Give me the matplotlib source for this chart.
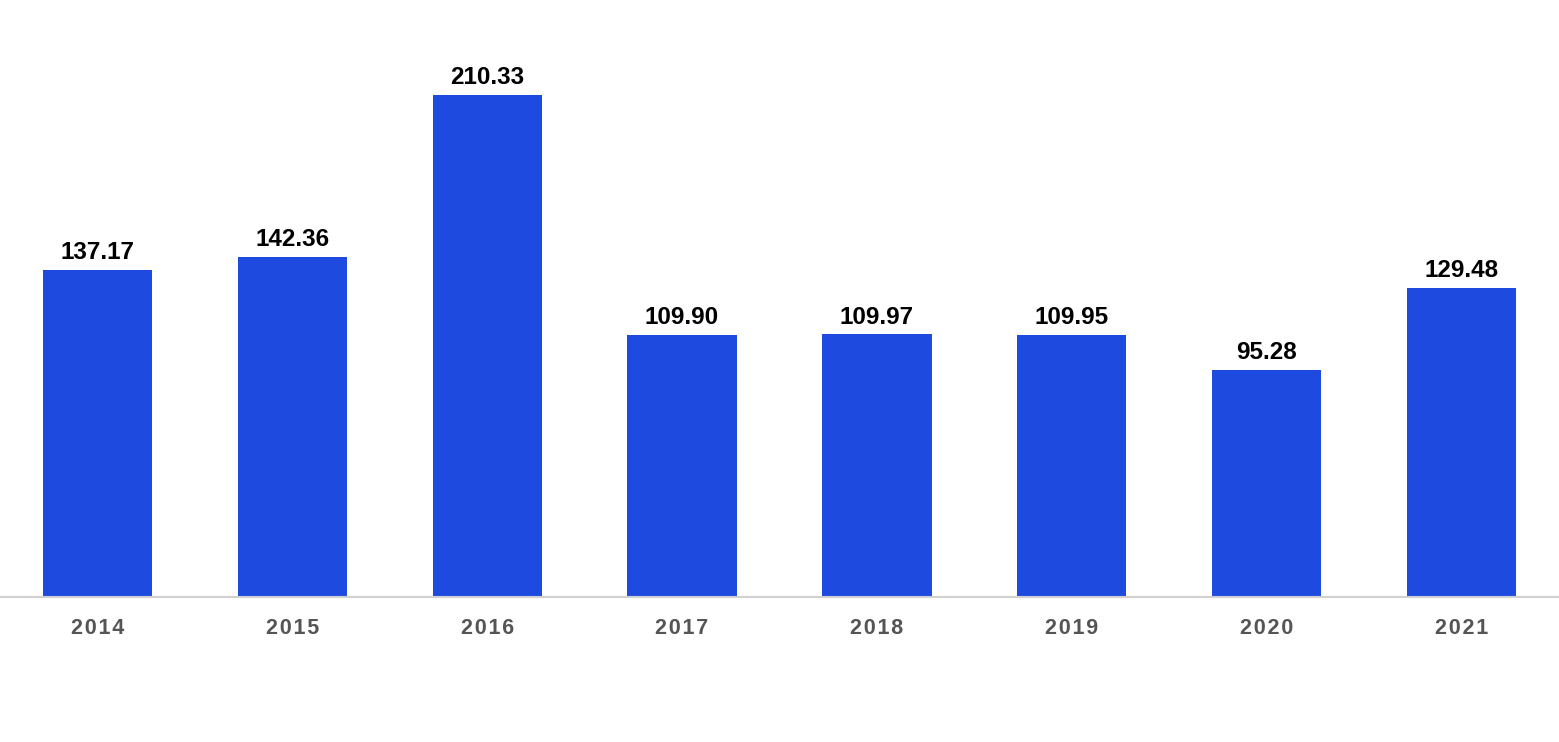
import matplotlib.pyplot as plt
import numpy as np

plt.rcParams['font.family'] = ['Liberation Sans', 'DejaVu Sans']

years = ["2014", "2015", "2016", "2017", "2018", "2019", "2020", "2021"]
values = [137.17, 142.36, 210.33, 109.90, 109.97, 109.95, 95.28, 129.48]
labels = ["137.17", "142.36", "210.33", "109.90", "109.97", "109.95", "95.28", "129.48"]

fig = plt.figure(figsize=(15.59, 7.42), dpi=100)
ax = fig.add_axes([0, 145 / 742, 1, 597 / 742])

x = np.arange(len(years))
ax.bar(x, values, width=0.56, color="#1f4ae0", zorder=2)
for xi, v, lab in zip(x, values, labels):
    ax.text(xi, v + 2.5, lab, ha="center", va="bottom", fontsize=17.5,
            fontweight="bold", color="black")

# letter-spaced tick labels like the original
spaced = ["\u200a".join(y) for y in years]

ax.set_xlim(-0.5, len(years) - 0.5)
ax.set_ylim(0, 250.1)
ax.set_yticks([])
ax.set_xticks(x)
ax.set_xticklabels(spaced, fontsize=15.5, fontweight="bold", color="#555555")
ax.tick_params(axis="x", length=0, pad=15)
for s in ["top", "left", "right"]:
    ax.spines[s].set_visible(False)
ax.spines["bottom"].set_color("#d0d0d0")
ax.spines["bottom"].set_linewidth(1.5)

fig.savefig("out.png", dpi=100)
